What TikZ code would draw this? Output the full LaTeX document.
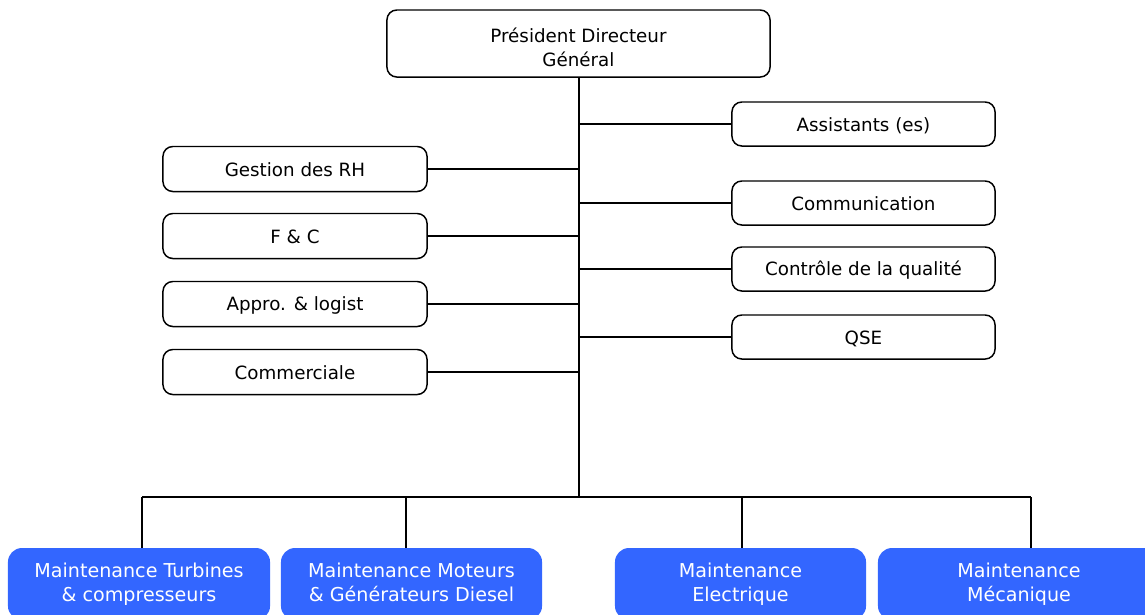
\documentclass[tikz,border=0pt]{standalone}
\usepackage{fontspec}
\setmainfont{DejaVu Sans}
\usepackage{tikz}
\usetikzlibrary{positioning}
\usetikzlibrary{calc}
\definecolor{deptblue}{RGB}{51,102,255}
\newcommand{\unitstrut}{\rule[-2pt]{0pt}{14pt}}
\newcommand{\deptstrut}{\rule[-2pt]{0pt}{14.5pt}}

\begin{document}
\begin{tikzpicture}[x=0.025cm,y=-0.025cm,
  unit/.style={draw,rounded corners=7,line width=1.05pt,align=center,font=\fontsize{13}{17}\selectfont,inner sep=0pt,execute at begin node=\unitstrut,execute at end node=\unitstrut},
  dept/.style={fill=deptblue,rounded corners=10,text=white,align=center,font=\fontsize{13.6}{17}\selectfont,inner sep=0pt,minimum height=1.8cm,execute at begin node=\deptstrut,execute at end node=\deptstrut},
  link/.style={line width=1.05pt}]

\useasboundingbox (0,0) rectangle (1145,614);
\clip (0,0) rectangle (1145,614);

%PDG
\node[unit,minimum width=9.575cm,minimum height=1.675cm] (pdg) at (578.5,43.5) {\rule{0pt}{18pt}Président Directeur\\Général};

%left
\node[unit,minimum width=6.6cm,minimum height=1.125cm] (rh) at (295,169) {Gestion des RH};
\node[unit,minimum width=6.6cm,minimum height=1.125cm] (fc) at (295,236) {F \& C};
\node[unit,minimum width=6.6cm,minimum height=1.125cm] (appro) at (295,304) {Appro. \& logist};
\node[unit,minimum width=6.6cm,minimum height=1.125cm] (comm) at (295,372) {Commerciale};

%right
\node[unit,minimum width=6.575cm,minimum height=1.1cm] (assist) at (863.5,124) {Assistants (es)};
\node[unit,minimum width=6.575cm,minimum height=1.1cm] (com) at (863.5,203) {Communication};
\node[unit,minimum width=6.575cm,minimum height=1.1cm] (qual) at (863.5,269) {Contrôle de la qualité};
\node[unit,minimum width=6.575cm,minimum height=1.1cm] (qse) at (863.5,337) {QSE};

%bottom
\node[dept,minimum width=6.55cm] (turb) at (139,584) {Maintenance Turbines\\\& compresseurs};
\node[dept,minimum width=6.525cm] (mot) at (411.5,584) {Maintenance Moteurs\\\& Générateurs Diesel};
\node[dept,minimum width=6.275cm] (elec) at (740.5,584) {Maintenance\\Electrique};
\node[dept,minimum width=7.05cm] (meca) at (1019,584) {Maintenance\\Mécanique};

%lines
\coordinate (bus) at (579,497);
\coordinate (d1) at (142,497);
\coordinate (d2) at (406,497);
\coordinate (d3) at (742,497);
\coordinate (d4) at (1031,497);
\draw[link] (pdg.south -| bus) -- (bus);
\foreach \n in {rh,fc,appro,comm} \draw[link] (\n.east) -- (\n.east -| bus);
\foreach \n in {assist,com,qual,qse} \draw[link] (\n.west) -- (\n.west -| bus);
\draw[link] (d1) -- (d4);
\draw[link] (d1) -- (d1 |- turb.north);
\draw[link] (d2) -- (d2 |- mot.north);
\draw[link] (d3) -- (d3 |- elec.north);
\draw[link] (d4) -- (d4 |- meca.north);

\end{tikzpicture}
\end{document}
